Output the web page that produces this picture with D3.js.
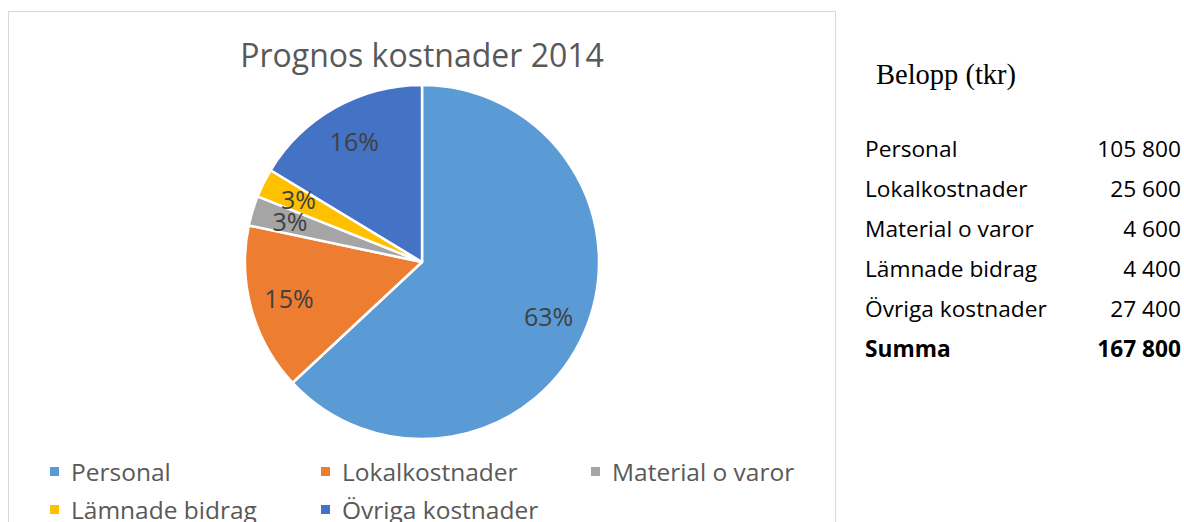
<!DOCTYPE html>
<html>
<head>
<meta charset="utf-8">
<script src="https://cdn.jsdelivr.net/npm/d3@7"></script>
<style>
  body { margin: 0; background: #fff; }
  svg { display: block; }
</style>
</head>
<body>
<div id="chart"></div>
<script>
// data
const categories = ['Personal', 'Lokalkostnader', 'Material o varor', 'Lämnade bidrag', 'Övriga kostnader'];
const amounts = [105800, 25600, 4600, 4400, 27400];
const colors = ['#5B9BD5', '#ED7D31', '#A5A5A5', '#FFC000', '#4472C4'];
const title = 'Prognos kostnader 2014';
const tableTitle = 'Belopp (tkr)';
const sumLabel = 'Summa';

const width = 1184, height = 522;
const sans = "'Open Sans', 'DejaVu Sans', sans-serif";

const svg = d3.select('#chart').append('svg')
    .attr('width', width)
    .attr('height', height);

// chart frame
svg.append('rect')
    .attr('x', 8.5).attr('y', 11.5)
    .attr('width', 827).attr('height', 530)
    .attr('fill', '#fff')
    .attr('stroke', '#d9d9d9')
    .attr('stroke-width', 1);

svg.append('text')
    .attr('x', 422).attr('y', 67)
    .attr('text-anchor', 'middle')
    .attr('font-family', sans)
    .attr('font-size', 32)
    .attr('fill', '#595959')
    .text(title);

// pie
const total = d3.sum(amounts);
const data = categories.map((c, i) => ({name: c, value: amounts[i], color: colors[i]}));
const radius = 177;
const pie = d3.pie().value(d => d.value).sort(null);
const arc = d3.arc().innerRadius(0).outerRadius(radius);
const labelArc = d3.arc().innerRadius(radius * 0.78).outerRadius(radius * 0.78);

const pieG = svg.append('g').attr('transform', 'translate(422,262)');
const slices = pie(data);

pieG.selectAll('path')
    .data(slices)
    .join('path')
    .attr('d', arc)
    .attr('fill', d => d.data.color)
    .attr('stroke', '#fff')
    .attr('stroke-width', 2.5)
    .attr('stroke-linejoin', 'round');

pieG.selectAll('text')
    .data(slices)
    .join('text')
    .attr('transform', d => `translate(${labelArc.centroid(d)})`)
    .attr('text-anchor', 'middle')
    .attr('dy', '0.36em')
    .attr('font-family', sans)
    .attr('font-size', 25)
    .attr('fill', '#404040')
    .text(d => Math.round(100 * d.data.value / total) + '%');

// legend: three per row
const legendX = d3.scaleOrdinal().domain([0, 1, 2]).range([50, 321, 591]);
const legend = svg.append('g').selectAll('g')
    .data(data)
    .join('g')
    .attr('transform', (d, i) => `translate(${legendX(i % 3)},${472 + Math.floor(i / 3) * 38})`);

legend.append('rect')
    .attr('x', 0).attr('y', -5)
    .attr('width', 9).attr('height', 9)
    .attr('fill', d => d.color);

legend.append('text')
    .attr('x', 21).attr('y', 0)
    .attr('dy', '0.36em')
    .attr('font-family', sans)
    .attr('font-size', 24.5)
    .attr('fill', '#595959')
    .text(d => d.name);

// amounts table on the right
const fmt = v => d3.format(',')(v).replace(/,/g, ' ');

svg.append('text')
    .attr('x', 876).attr('y', 84)
    .attr('font-family', "'Liberation Serif', 'DejaVu Serif', serif")
    .attr('font-size', 28.5)
    .attr('fill', '#000')
    .text(tableTitle);

const rows = data.map(d => ({name: d.name, value: d.value, bold: false}))
    .concat([{name: sumLabel, value: total, bold: true}]);

const rowY = d3.scaleLinear().domain([0, 1]).range([157, 197]);

const row = svg.append('g').selectAll('g')
    .data(rows)
    .join('g')
    .attr('transform', (d, i) => `translate(0,${rowY(i)})`)
    .attr('font-family', sans)
    .attr('font-size', 22.7)
    .attr('fill', '#000')
    .attr('font-weight', d => d.bold ? 'bold' : 'normal');

row.append('text')
    .attr('x', 865)
    .text(d => d.name);

row.append('text')
    .attr('x', 1181)
    .attr('text-anchor', 'end')
    .text(d => fmt(d.value));
</script>
</body>
</html>
